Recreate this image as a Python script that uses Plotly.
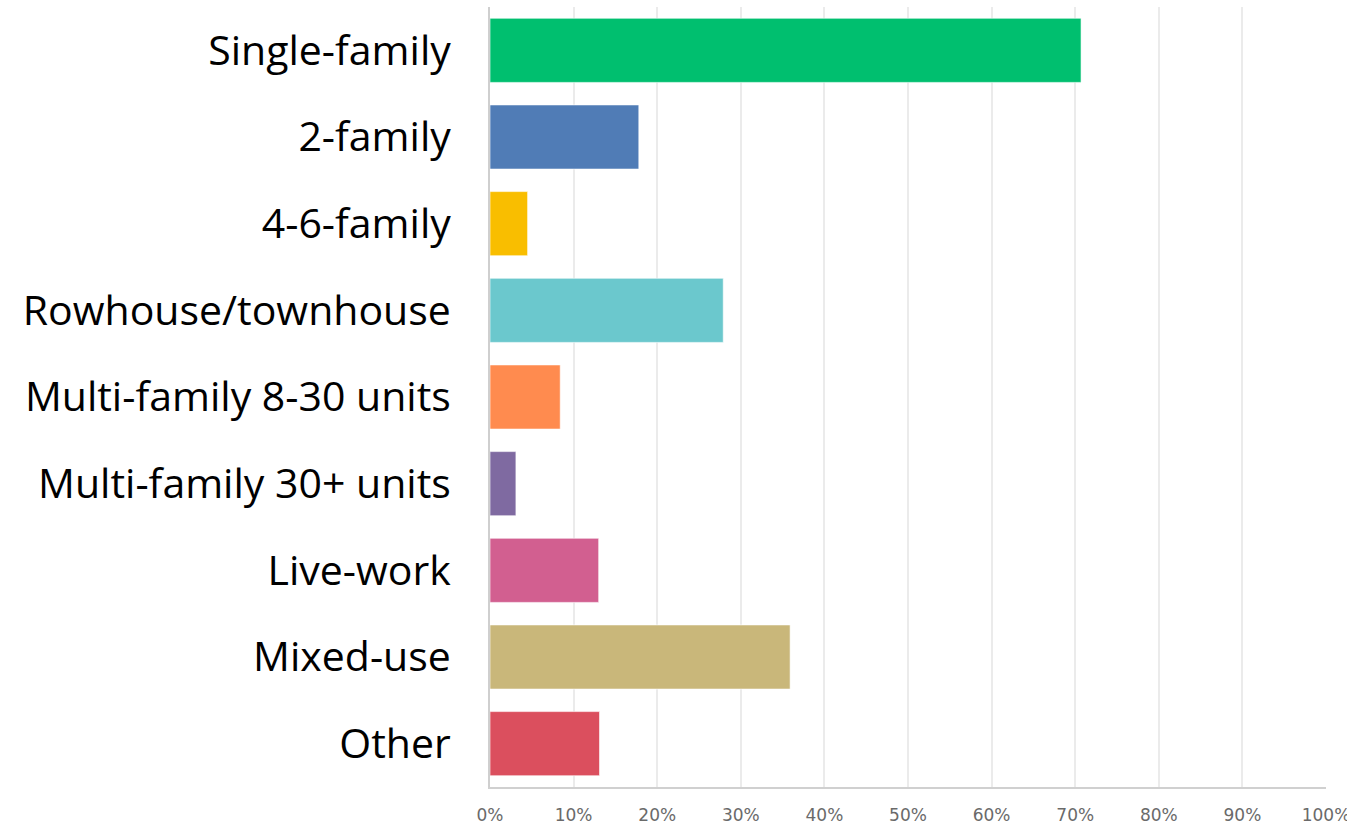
import plotly.graph_objects as go

categories = ["Single-family", "2-family", "4-6-family", "Rowhouse/townhouse",
              "Multi-family 8-30 units", "Multi-family 30+ units", "Live-work",
              "Mixed-use", "Other"]
values = [70.7, 17.8, 4.5, 27.9, 8.4, 3.1, 13.0, 35.9, 13.1]
colors = ["#00BF6F", "#507CB6", "#F9BE00", "#6BC8CD", "#FF8B4F",
          "#7F6AA1", "#D25F90", "#C9B77A", "#DB4F5E"]
x_ticks = [0, 10, 20, 30, 40, 50, 60, 70, 80, 90, 100]
x_tick_labels = [f"{t}%" for t in x_ticks]

fig = go.Figure(go.Bar(
    y=categories, x=values, orientation="h",
    marker=dict(color=colors, line=dict(color="rgba(255,255,255,0.6)", width=1)),
))

fig.update_layout(
    width=1347, height=824,
    margin=dict(l=490, r=21, t=7, b=37, autoexpand=False),
    plot_bgcolor="white", paper_bgcolor="white",
    bargap=0.26,
    showlegend=False,
    font=dict(family="Open Sans, sans-serif"),
)
fig.update_xaxes(
    range=[0, 100], tickvals=x_ticks, ticktext=x_tick_labels,
    showgrid=True, gridcolor="#ebebeb", gridwidth=1.5,
    showline=True, linecolor="#d0d0d0", linewidth=2,
    zeroline=False, automargin=False,
    tickfont=dict(family="DejaVu Sans, sans-serif", size=17, color="#6a6a6a"),
    ticks="", ticklabelstandoff=12, ticklabeloverflow="allow",
)
fig.update_yaxes(
    categoryorder="array", categoryarray=categories[::-1],
    autorange=False, range=[-0.5, 8.5],
    showline=True, linecolor="#cfcfcf", linewidth=2,
    automargin=False,
    tickfont=dict(family="Open Sans, sans-serif", size=41, color="#000000"),
    ticks="", ticklabelstandoff=29,
)

fig.write_html(
    "out.html",
    config={"displayModeBar": False},
    post_script="document.body.style.margin='0';document.body.style.overflow='hidden';",
)
